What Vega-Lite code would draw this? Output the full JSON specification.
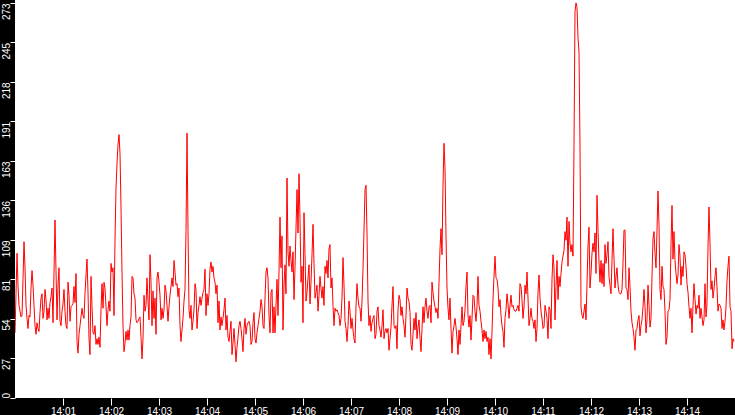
{
  "$schema": "https://vega.github.io/schema/vega-lite/v6.json",
  "width": 720,
  "height": 398,
  "autosize": {"type": "none"},
  "padding": {"left": 15, "top": 0, "right": 0, "bottom": 17},
  "background": "black",
  "config": {"view": {"fill": "white", "stroke": null}},
  "data": {
    "values": [
      {"s":0,"v":45},{"s":1.25,"v":72},{"s":2.5,"v":100},{"s":3.75,"v":78},{"s":5,"v":64},{"s":6.25,"v":60},{"s":7.5,"v":56},{"s":8.75,"v":57},{"s":10,"v":82},{"s":11.25,"v":108},
      {"s":12.5,"v":90},{"s":13.75,"v":64},{"s":15,"v":55},{"s":16.25,"v":48},{"s":17.5,"v":57},{"s":18.75,"v":56},{"s":20,"v":76},{"s":21.25,"v":88},{"s":22.5,"v":78},{"s":23.75,"v":64},
      {"s":25,"v":50},{"s":26.25,"v":44},{"s":27.5,"v":52},{"s":28.75,"v":48},{"s":30,"v":46},{"s":31.25,"v":59},{"s":32.5,"v":69},{"s":33.75,"v":72},{"s":35,"v":55},{"s":36.25,"v":60},
      {"s":37.5,"v":75},{"s":38.75,"v":68},{"s":40,"v":54},{"s":41.25,"v":62},{"s":42.5,"v":55},{"s":43.75,"v":66},{"s":45,"v":70},{"s":46.25,"v":76},{"s":47.5,"v":52},{"s":48.75,"v":86},
      {"s":50,"v":123},{"s":51.25,"v":88},{"s":52.5,"v":54},{"s":53.75,"v":78},{"s":55,"v":90},{"s":56.25,"v":53},{"s":57.5,"v":50},{"s":58.75,"v":60},{"s":60,"v":65},{"s":61.25,"v":75},
      {"s":62.5,"v":60},{"s":63.75,"v":50},{"s":65,"v":48},{"s":66.25,"v":80},{"s":67.5,"v":71},{"s":68.75,"v":53},{"s":70,"v":63},{"s":71.25,"v":64},{"s":72.5,"v":65},{"s":73.75,"v":77},
      {"s":75,"v":66},{"s":76.25,"v":86},{"s":77.5,"v":39},{"s":78.75,"v":31},{"s":80,"v":44},{"s":81.25,"v":50},{"s":82.5,"v":56},{"s":83.75,"v":62},{"s":85,"v":57},{"s":86.25,"v":55},
      {"s":87.5,"v":72},{"s":88.75,"v":85},{"s":90,"v":96},{"s":91.25,"v":73},{"s":92.5,"v":41},{"s":93.75,"v":30},{"s":95,"v":84},{"s":96.25,"v":63},{"s":97.5,"v":45},{"s":98.75,"v":44},
      {"s":100,"v":50},{"s":101.25,"v":37},{"s":102.5,"v":41},{"s":103.75,"v":37},{"s":105,"v":42},{"s":106.25,"v":35},{"s":107.5,"v":61},{"s":108.75,"v":79},{"s":110,"v":62},{"s":111.25,"v":80},
      {"s":112.5,"v":76},{"s":113.75,"v":63},{"s":115,"v":50},{"s":116.25,"v":61},{"s":117.5,"v":67},{"s":118.75,"v":60},{"s":120,"v":93},{"s":121.25,"v":87},{"s":122.5,"v":90},{"s":123.75,"v":57},
      {"s":125,"v":109},{"s":126.25,"v":145},{"s":127.5,"v":162},{"s":128.75,"v":175},{"s":130,"v":182},{"s":131.25,"v":169},{"s":132.5,"v":132},{"s":133.75,"v":87},{"s":135,"v":50},{"s":136.25,"v":32},
      {"s":137.5,"v":38},{"s":138.75,"v":46},{"s":140,"v":40},{"s":141.25,"v":47},{"s":142.5,"v":40},{"s":143.75,"v":50},{"s":145,"v":56},{"s":146.25,"v":84},{"s":147.5,"v":83},{"s":148.75,"v":72},
      {"s":150,"v":69},{"s":151.25,"v":54},{"s":152.5,"v":52},{"s":153.75,"v":53},{"s":155,"v":55},{"s":156.25,"v":56},{"s":157.5,"v":42},{"s":158.75,"v":27},{"s":160,"v":41},{"s":161.25,"v":71},
      {"s":162.5,"v":60},{"s":163.75,"v":64},{"s":165,"v":83},{"s":166.25,"v":67},{"s":167.5,"v":54},{"s":168.75,"v":99},{"s":170,"v":80},{"s":171.25,"v":50},{"s":172.5,"v":74},{"s":173.75,"v":55},
      {"s":175,"v":69},{"s":176.25,"v":44},{"s":177.5,"v":83},{"s":178.75,"v":87},{"s":180,"v":80},{"s":181.25,"v":71},{"s":182.5,"v":54},{"s":183.75,"v":62},{"s":185,"v":55},{"s":186.25,"v":61},
      {"s":187.5,"v":78},{"s":188.75,"v":74},{"s":190,"v":64},{"s":191.25,"v":53},{"s":192.5,"v":63},{"s":193.75,"v":71},{"s":195,"v":77},{"s":196.25,"v":83},{"s":197.5,"v":77},{"s":198.75,"v":95},
      {"s":200,"v":87},{"s":201.25,"v":78},{"s":202.5,"v":79},{"s":203.75,"v":70},{"s":205,"v":76},{"s":206.25,"v":50},{"s":207.5,"v":39},{"s":208.75,"v":47},{"s":210,"v":55},{"s":211.25,"v":67},
      {"s":212.5,"v":75},{"s":213.75,"v":115},{"s":215,"v":183},{"s":216.25,"v":117},{"s":217.5,"v":61},{"s":218.75,"v":55},{"s":220,"v":64},{"s":221.25,"v":47},{"s":222.5,"v":53},{"s":223.75,"v":61},
      {"s":225,"v":79},{"s":226.25,"v":75},{"s":227.5,"v":48},{"s":228.75,"v":59},{"s":230,"v":64},{"s":231.25,"v":70},{"s":232.5,"v":64},{"s":233.75,"v":69},{"s":235,"v":73},{"s":236.25,"v":75},
      {"s":237.5,"v":89},{"s":238.75,"v":57},{"s":240,"v":72},{"s":241.25,"v":64},{"s":242.5,"v":72},{"s":243.75,"v":89},{"s":245,"v":94},{"s":246.25,"v":87},{"s":247.5,"v":91},{"s":248.75,"v":83},
      {"s":250,"v":80},{"s":251.25,"v":72},{"s":252.5,"v":78},{"s":253.75,"v":52},{"s":255,"v":67},{"s":256.25,"v":47},{"s":257.5,"v":56},{"s":258.75,"v":50},{"s":260,"v":55},{"s":261.25,"v":61},
      {"s":262.5,"v":69},{"s":263.75,"v":47},{"s":265,"v":57},{"s":266.25,"v":42},{"s":267.5,"v":39},{"s":268.75,"v":46},{"s":270,"v":53},{"s":271.25,"v":30},{"s":272.5,"v":38},{"s":273.75,"v":48},
      {"s":275,"v":37},{"s":276.25,"v":25},{"s":277.5,"v":35},{"s":278.75,"v":42},{"s":280,"v":50},{"s":281.25,"v":53},{"s":282.5,"v":48},{"s":283.75,"v":41},{"s":285,"v":32},{"s":286.25,"v":48},
      {"s":287.5,"v":55},{"s":288.75,"v":44},{"s":290,"v":50},{"s":291.25,"v":52},{"s":292.5,"v":53},{"s":293.75,"v":50},{"s":295,"v":37},{"s":296.25,"v":39},{"s":297.5,"v":52},{"s":298.75,"v":59},
      {"s":300,"v":41},{"s":301.25,"v":38},{"s":302.5,"v":45},{"s":303.75,"v":50},{"s":305,"v":55},{"s":306.25,"v":60},{"s":307.5,"v":68},{"s":308.75,"v":63},{"s":310,"v":50},{"s":311.25,"v":48},
      {"s":312.5,"v":69},{"s":313.75,"v":87},{"s":315,"v":90},{"s":316.25,"v":83},{"s":317.5,"v":57},{"s":318.75,"v":45},{"s":320,"v":73},{"s":321.25,"v":75},{"s":322.5,"v":45},{"s":323.75,"v":63},
      {"s":325,"v":45},{"s":326.25,"v":64},{"s":327.5,"v":82},{"s":328.75,"v":57},{"s":330,"v":87},{"s":331.25,"v":125},{"s":332.5,"v":90},{"s":333.75,"v":112},{"s":335,"v":47},{"s":336.25,"v":78},
      {"s":337.5,"v":92},{"s":338.75,"v":72},{"s":340,"v":152},{"s":341.25,"v":101},{"s":342.5,"v":91},{"s":343.75,"v":105},{"s":345,"v":95},{"s":346.25,"v":87},{"s":347.5,"v":101},{"s":348.75,"v":68},
      {"s":350,"v":90},{"s":351.25,"v":117},{"s":352.5,"v":144},{"s":353.75,"v":114},{"s":355,"v":155},{"s":356.25,"v":124},{"s":357.5,"v":80},{"s":358.75,"v":91},{"s":360,"v":52},{"s":361.25,"v":128},
      {"s":362.5,"v":100},{"s":363.75,"v":67},{"s":365,"v":73},{"s":366.25,"v":83},{"s":367.5,"v":92},{"s":368.75,"v":65},{"s":370,"v":80},{"s":371.25,"v":99},{"s":372.5,"v":120},{"s":373.75,"v":93},
      {"s":375,"v":69},{"s":376.25,"v":73},{"s":377.5,"v":78},{"s":378.75,"v":60},{"s":380,"v":71},{"s":381.25,"v":84},{"s":382.5,"v":76},{"s":383.75,"v":69},{"s":385,"v":77},{"s":386.25,"v":64},
      {"s":387.5,"v":91},{"s":388.75,"v":86},{"s":390,"v":95},{"s":391.25,"v":83},{"s":392.5,"v":103},{"s":393.75,"v":106},{"s":395,"v":76},{"s":396.25,"v":83},{"s":397.5,"v":64},{"s":398.75,"v":50},
      {"s":400,"v":62},{"s":401.25,"v":60},{"s":402.5,"v":61},{"s":403.75,"v":59},{"s":405,"v":57},{"s":406.25,"v":50},{"s":407.5,"v":55},{"s":408.75,"v":69},{"s":410,"v":97},{"s":411.25,"v":78},
      {"s":412.5,"v":53},{"s":413.75,"v":48},{"s":415,"v":39},{"s":416.25,"v":50},{"s":417.5,"v":67},{"s":418.75,"v":60},{"s":420,"v":48},{"s":421.25,"v":55},{"s":422.5,"v":47},{"s":423.75,"v":41},
      {"s":425,"v":38},{"s":426.25,"v":63},{"s":427.5,"v":79},{"s":428.75,"v":69},{"s":430,"v":63},{"s":431.25,"v":62},{"s":432.5,"v":53},{"s":433.75,"v":67},{"s":435,"v":89},{"s":436.25,"v":116},
      {"s":437.5,"v":144},{"s":438.75,"v":147},{"s":440,"v":114},{"s":441.25,"v":67},{"s":442.5,"v":50},{"s":443.75,"v":57},{"s":445,"v":46},{"s":446.25,"v":52},{"s":447.5,"v":55},{"s":448.75,"v":57},
      {"s":450,"v":41},{"s":451.25,"v":44},{"s":452.5,"v":60},{"s":453.75,"v":63},{"s":455,"v":50},{"s":456.25,"v":47},{"s":457.5,"v":42},{"s":458.75,"v":50},{"s":460,"v":61},{"s":461.25,"v":41},
      {"s":462.5,"v":46},{"s":463.75,"v":48},{"s":465,"v":45},{"s":466.25,"v":48},{"s":467.5,"v":33},{"s":468.75,"v":41},{"s":470,"v":49},{"s":471.25,"v":64},{"s":472.5,"v":77},{"s":473.75,"v":50},
      {"s":475,"v":48},{"s":476.25,"v":50},{"s":477.5,"v":34},{"s":478.75,"v":61},{"s":480,"v":71},{"s":481.25,"v":68},{"s":482.5,"v":57},{"s":483.75,"v":63},{"s":485,"v":55},{"s":486.25,"v":50},
      {"s":487.5,"v":42},{"s":488.75,"v":57},{"s":490,"v":76},{"s":491.25,"v":69},{"s":492.5,"v":67},{"s":493.75,"v":59},{"s":495,"v":37},{"s":496.25,"v":33},{"s":497.5,"v":44},{"s":498.75,"v":55},
      {"s":500,"v":47},{"s":501.25,"v":59},{"s":502.5,"v":41},{"s":503.75,"v":49},{"s":505,"v":54},{"s":506.25,"v":41},{"s":507.5,"v":32},{"s":508.75,"v":48},{"s":510,"v":63},{"s":511.25,"v":52},
      {"s":512.5,"v":63},{"s":513.75,"v":69},{"s":515,"v":60},{"s":516.25,"v":55},{"s":517.5,"v":63},{"s":518.75,"v":64},{"s":520,"v":52},{"s":521.25,"v":80},{"s":522.5,"v":73},{"s":523.75,"v":67},
      {"s":525,"v":63},{"s":526.25,"v":59},{"s":527.5,"v":62},{"s":528.75,"v":55},{"s":530,"v":80},{"s":531.25,"v":103},{"s":532.5,"v":117},{"s":533.75,"v":99},{"s":535,"v":147},{"s":536.25,"v":176},
      {"s":537.5,"v":159},{"s":538.75,"v":112},{"s":540,"v":76},{"s":541.25,"v":62},{"s":542.5,"v":54},{"s":543.75,"v":69},{"s":545,"v":48},{"s":546.25,"v":31},{"s":547.5,"v":46},{"s":548.75,"v":50},
      {"s":550,"v":55},{"s":551.25,"v":49},{"s":552.5,"v":41},{"s":553.75,"v":30},{"s":555,"v":47},{"s":556.25,"v":37},{"s":557.5,"v":50},{"s":558.75,"v":63},{"s":560,"v":50},{"s":561.25,"v":53},
      {"s":562.5,"v":61},{"s":563.75,"v":77},{"s":565,"v":87},{"s":566.25,"v":57},{"s":567.5,"v":49},{"s":568.75,"v":57},{"s":570,"v":40},{"s":571.25,"v":55},{"s":572.5,"v":71},{"s":573.75,"v":70},
      {"s":575,"v":60},{"s":576.25,"v":53},{"s":577.5,"v":63},{"s":578.75,"v":84},{"s":580,"v":64},{"s":581.25,"v":60},{"s":582.5,"v":53},{"s":583.75,"v":47},{"s":585,"v":39},{"s":586.25,"v":47},
      {"s":587.5,"v":41},{"s":588.75,"v":46},{"s":590,"v":39},{"s":591.25,"v":42},{"s":592.5,"v":30},{"s":593.75,"v":41},{"s":595,"v":27},{"s":596.25,"v":46},{"s":597.5,"v":68},{"s":598.75,"v":84},
      {"s":600,"v":98},{"s":601.25,"v":83},{"s":602.5,"v":82},{"s":603.75,"v":76},{"s":605,"v":63},{"s":606.25,"v":68},{"s":607.5,"v":57},{"s":608.75,"v":50},{"s":610,"v":46},{"s":611.25,"v":35},
      {"s":612.5,"v":55},{"s":613.75,"v":61},{"s":615,"v":72},{"s":616.25,"v":65},{"s":617.5,"v":55},{"s":618.75,"v":64},{"s":620,"v":71},{"s":621.25,"v":63},{"s":622.5,"v":64},{"s":623.75,"v":61},
      {"s":625,"v":60},{"s":626.25,"v":60},{"s":627.5,"v":62},{"s":628.75,"v":64},{"s":630,"v":60},{"s":631.25,"v":79},{"s":632.5,"v":77},{"s":633.75,"v":68},{"s":635,"v":55},{"s":636.25,"v":63},
      {"s":637.5,"v":78},{"s":638.75,"v":72},{"s":640,"v":87},{"s":641.25,"v":69},{"s":642.5,"v":50},{"s":643.75,"v":55},{"s":645,"v":62},{"s":646.25,"v":55},{"s":647.5,"v":53},{"s":648.75,"v":48},
      {"s":650,"v":54},{"s":651.25,"v":39},{"s":652.5,"v":48},{"s":653.75,"v":73},{"s":655,"v":85},{"s":656.25,"v":69},{"s":657.5,"v":60},{"s":658.75,"v":55},{"s":660,"v":48},{"s":661.25,"v":49},
      {"s":662.5,"v":64},{"s":663.75,"v":60},{"s":665,"v":55},{"s":666.25,"v":41},{"s":667.5,"v":63},{"s":668.75,"v":61},{"s":670,"v":48},{"s":671.25,"v":82},{"s":672.5,"v":99},{"s":673.75,"v":90},
      {"s":675,"v":54},{"s":676.25,"v":77},{"s":677.5,"v":95},{"s":678.75,"v":68},{"s":680,"v":84},{"s":681.25,"v":77},{"s":682.5,"v":86},{"s":683.75,"v":94},{"s":685,"v":98},{"s":686.25,"v":102},
      {"s":687.5,"v":115},{"s":688.75,"v":109},{"s":690,"v":125},{"s":691.25,"v":91},{"s":692.5,"v":122},{"s":693.75,"v":107},{"s":695,"v":101},{"s":696.25,"v":106},{"s":697.5,"v":98},{"s":698.75,"v":175},
      {"s":700,"v":267},{"s":701.25,"v":273},{"s":702.5,"v":270},{"s":703.75,"v":249},{"s":705,"v":239},{"s":706.25,"v":175},{"s":707.5,"v":63},{"s":708.75,"v":57},{"s":710,"v":55},{"s":711.25,"v":60},
      {"s":712.5,"v":65},{"s":713.75,"v":54},{"s":715,"v":79},{"s":716.25,"v":105},{"s":717.5,"v":118},{"s":718.75,"v":76},{"s":720,"v":86},{"s":721.25,"v":100},{"s":722.5,"v":107},{"s":723.75,"v":101},
      {"s":725,"v":114},{"s":726.25,"v":86},{"s":727.5,"v":140},{"s":728.75,"v":116},{"s":730,"v":94},{"s":731.25,"v":80},{"s":732.5,"v":95},{"s":733.75,"v":79},{"s":735,"v":93},{"s":736.25,"v":77},
      {"s":737.5,"v":106},{"s":738.75,"v":93},{"s":740,"v":99},{"s":741.25,"v":108},{"s":742.5,"v":84},{"s":743.75,"v":78},{"s":745,"v":72},{"s":746.25,"v":95},{"s":747.5,"v":117},{"s":748.75,"v":96},
      {"s":750,"v":76},{"s":751.25,"v":84},{"s":752.5,"v":90},{"s":753.75,"v":78},{"s":755,"v":73},{"s":756.25,"v":72},{"s":757.5,"v":72},{"s":758.75,"v":75},{"s":760,"v":93},{"s":761.25,"v":116},
      {"s":762.5,"v":116},{"s":763.75,"v":76},{"s":765,"v":75},{"s":766.25,"v":68},{"s":767.5,"v":90},{"s":768.75,"v":77},{"s":770,"v":60},{"s":771.25,"v":52},{"s":772.5,"v":48},{"s":773.75,"v":42},
      {"s":775,"v":33},{"s":776.25,"v":47},{"s":777.5,"v":48},{"s":778.75,"v":54},{"s":780,"v":57},{"s":781.25,"v":43},{"s":782.5,"v":50},{"s":783.75,"v":54},{"s":785,"v":63},{"s":786.25,"v":75},
      {"s":787.5,"v":63},{"s":788.75,"v":45},{"s":790,"v":54},{"s":791.25,"v":78},{"s":792.5,"v":64},{"s":793.75,"v":49},{"s":795,"v":55},{"s":796.25,"v":84},{"s":797.5,"v":110},{"s":798.75,"v":115},
      {"s":800,"v":100},{"s":801.25,"v":90},{"s":802.5,"v":116},{"s":803.75,"v":143},{"s":805,"v":120},{"s":806.25,"v":75},{"s":807.5,"v":68},{"s":808.75,"v":91},{"s":810,"v":77},{"s":811.25,"v":75},
      {"s":812.5,"v":60},{"s":813.75,"v":37},{"s":815,"v":42},{"s":816.25,"v":60},{"s":817.5,"v":61},{"s":818.75,"v":68},{"s":820,"v":106},{"s":821.25,"v":133},{"s":822.5,"v":96},{"s":823.75,"v":115},
      {"s":825,"v":95},{"s":826.25,"v":86},{"s":827.5,"v":79},{"s":828.75,"v":85},{"s":830,"v":106},{"s":831.25,"v":98},{"s":832.5,"v":78},{"s":833.75,"v":91},{"s":835,"v":84},{"s":836.25,"v":101},
      {"s":837.5,"v":99},{"s":838.75,"v":91},{"s":840,"v":79},{"s":841.25,"v":73},{"s":842.5,"v":63},{"s":843.75,"v":55},{"s":845,"v":62},{"s":846.25,"v":45},{"s":847.5,"v":64},{"s":848.75,"v":79},
      {"s":850,"v":68},{"s":851.25,"v":58},{"s":852.5,"v":64},{"s":853.75,"v":62},{"s":855,"v":71},{"s":856.25,"v":55},{"s":857.5,"v":62},{"s":858.75,"v":56},{"s":860,"v":50},{"s":861.25,"v":54},
      {"s":862.5,"v":79},{"s":863.75,"v":56},{"s":865,"v":65},{"s":866.25,"v":104},{"s":867.5,"v":132},{"s":868.75,"v":107},{"s":870,"v":75},{"s":871.25,"v":81},{"s":872.5,"v":69},{"s":873.75,"v":75},
      {"s":875,"v":84},{"s":876.25,"v":90},{"s":877.5,"v":76},{"s":878.75,"v":60},{"s":880,"v":65},{"s":881.25,"v":64},{"s":882.5,"v":62},{"s":883.75,"v":48},{"s":885,"v":54},{"s":886.25,"v":47},
      {"s":887.5,"v":53},{"s":888.75,"v":63},{"s":890,"v":81},{"s":891.25,"v":91},{"s":892.5,"v":98},{"s":893.75,"v":63},{"s":895,"v":60},{"s":896.25,"v":34},{"s":897.5,"v":41},{"s":898.75,"v":39}
    ]
  },
  "mark": {"type": "line", "color": "#ff0000", "strokeWidth": 1, "clip": true},
  "encoding": {
    "x": {
      "field": "s",
      "type": "quantitative",
      "scale": {"domain": [0, 900], "nice": false, "zero": false},
      "axis": {
        "title": null,
        "values": [60, 120, 180, 240, 300, 360, 420, 480, 540, 600, 660, 720, 780, 840],
        "labelExpr": "'14:' + (datum.value < 600 ? '0' : '') + (datum.value / 60)",
        "domain": false,
        "grid": false,
        "tickColor": "white",
        "tickSize": 7,
        "labelColor": "white",
        "labelFont": "Liberation Sans",
        "labelFontSize": 10,
        "labelPadding": 1,
        "labelOverlap": false
      }
    },
    "y": {
      "field": "v",
      "type": "quantitative",
      "scale": {"domain": [0, 275], "nice": false},
      "axis": {
        "title": null,
        "values": [0, 27.3, 54.6, 81.9, 109.2, 136.5, 163.8, 191.1, 218.4, 245.7, 273],
        "labelExpr": "floor(datum.value)",
        "domain": false,
        "grid": false,
        "tickColor": "white",
        "tickSize": 5,
        "labelColor": "white",
        "labelFont": "Liberation Sans",
        "labelFontSize": 10,
        "labelAngle": 270,
        "labelAlign": {"condition": {"test": "datum.value === 0", "value": "left"}, "value": "right"},
        "labelBaseline": "alphabetic",
        "labelPadding": 1,
        "labelOverlap": false
      }
    }
  }
}
